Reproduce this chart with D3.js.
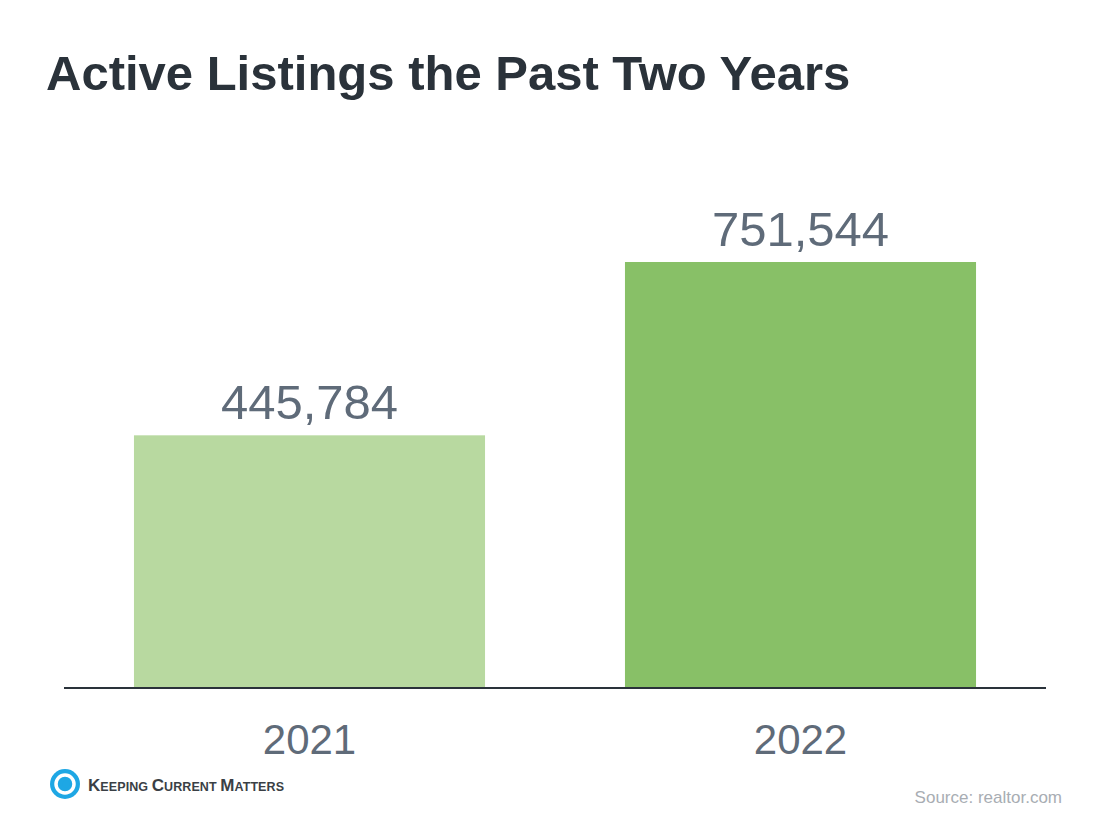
<!DOCTYPE html>
<html>
<head>
<meta charset="utf-8">
<script src="https://cdn.jsdelivr.net/npm/d3@7"></script>
<style>
  body { margin: 0; background: #fff; }
  text { font-family: "Liberation Sans", Arial, sans-serif; }
</style>
</head>
<body>
<div id="chart"></div>
<script>
const years = ['2021', '2022'];
const listings = [445784, 751544];
const barColors = ['#b8d9a0', '#88c067'];

const W = 1108, H = 820;
const svg = d3.select('#chart').append('svg').attr('width', W).attr('height', H);

svg.append('text').attr('x', 46).attr('y', 90)
  .attr('font-size', 49).attr('font-weight', 'bold').attr('fill', '#2a323a')
  .text('Active Listings the Past Two Years');

const baseY = 688;
const x = d3.scaleBand().domain(years).range([64, 1046]).paddingInner(0.285).paddingOuter(0.1425);
const y = d3.scaleLinear().domain([0, 751544]).range([baseY, 262]);

svg.selectAll('rect.bar').data(years).enter().append('rect')
  .attr('class', 'bar')
  .attr('x', d => x(d)).attr('width', x.bandwidth())
  .attr('y', (d, i) => y(listings[i]))
  .attr('height', (d, i) => baseY - y(listings[i]))
  .attr('fill', (d, i) => barColors[i]);

svg.append('line').attr('x1', 64).attr('x2', 1046).attr('y1', baseY).attr('y2', baseY)
  .attr('stroke', '#2a323a').attr('stroke-width', 2);

svg.selectAll('text.val').data(years).enter().append('text')
  .attr('x', d => x(d) + x.bandwidth() / 2)
  .attr('y', (d, i) => y(listings[i]) - 16)
  .attr('text-anchor', 'middle').attr('font-size', 49).attr('fill', '#5f6b79')
  .text((d, i) => d3.format(',')(listings[i]));

svg.selectAll('text.yr').data(years).enter().append('text')
  .attr('x', d => x(d) + x.bandwidth() / 2).attr('y', 754)
  .attr('text-anchor', 'middle').attr('font-size', 42).attr('fill', '#5f6b79')
  .text(d => d);

svg.append('text').attr('x', 1062).attr('y', 803).attr('text-anchor', 'end')
  .attr('font-size', 17).attr('fill', '#a8adb3').text('Source: realtor.com');

// logo
const logo = svg.append('g').attr('transform', 'translate(65,784)');
logo.append('circle').attr('r', 15).attr('fill', '#1ea7e4');
logo.append('circle').attr('r', 9).attr('fill', 'none').attr('stroke', '#fff').attr('stroke-width', 3.5);
logo.append('circle').attr('cx', 1).attr('r', 3.5).attr('fill', '#1ea7e4');
const lt = svg.append('text').attr('x', 88).attr('y', 791).attr('fill', '#3a3f45')
  .attr('font-weight', 'bold').attr('font-size', 12.5).attr('textLength', 196);
[['K', 'EEPING '], ['C', 'URRENT '], ['M', 'ATTERS']].forEach(([a, b]) => {
  lt.append('tspan').attr('font-size', 17).text(a);
  lt.append('tspan').text(b);
});
</script>
</body>
</html>
